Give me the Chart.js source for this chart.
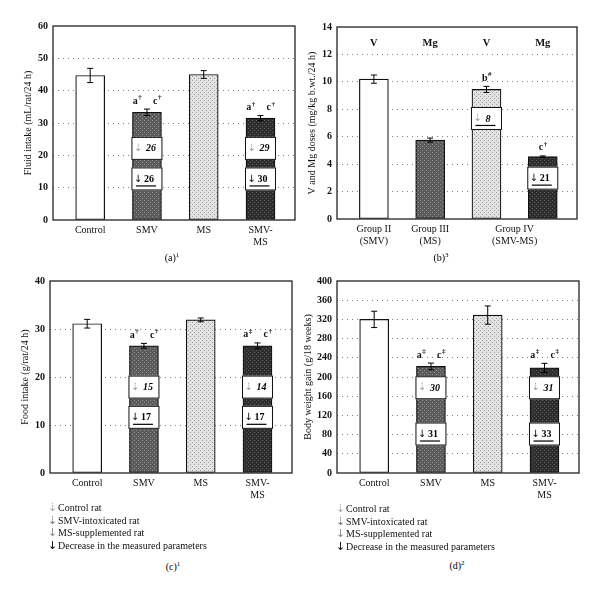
<!DOCTYPE html>
<html>
<head>
<meta charset="utf-8">
<script src="https://cdn.jsdelivr.net/npm/chart.js@4.4.0/dist/chart.umd.min.js"></script>
<style>
  body { margin: 0; background: #fff; font-family: "Liberation Serif", serif; color: #111; }
  #wrap { position: relative; width: 600px; height: 593px; overflow: hidden; }
  canvas { position: absolute; }
  .cap { position: absolute; font-size: 10px; line-height: 12px; color: #000; transform: translateX(-50%); white-space: nowrap; }
  .cap sup { font-size: 7px; vertical-align: 4px; line-height: 0; }
  .legend { position: absolute; font-size: 10px; line-height: 12.7px; color: #111; white-space: nowrap; }
  .legend span { display: inline-block; width: 10px; font-family: "DejaVu Sans"; font-size: 11px; }
</style>
</head>
<body>
<div id="wrap">
  <canvas id="chartA" width="300" height="270" style="left:0;top:0"></canvas>
  <canvas id="chartB" width="300" height="270" style="left:300px;top:0"></canvas>
  <canvas id="chartC" width="300" height="250" style="left:0;top:270px"></canvas>
  <canvas id="chartD" width="300" height="250" style="left:300px;top:270px"></canvas>

  <div class="cap" style="left:172px;top:252px">(a)<sup>1</sup></div>
  <div class="cap" style="left:441px;top:252px">(b)<sup>3</sup></div>
  <div class="cap" style="left:173px;top:561px">(c)<sup>1</sup></div>
  <div class="cap" style="left:457px;top:560px">(d)<sup>2</sup></div>

  <div class="legend" style="left:48px;top:502px">
    <div><span style="color:#aaa">⇣</span>Control rat</div>
    <div><span style="color:#777">⇣</span>SMV-intoxicated rat</div>
    <div><span style="color:#888">↓</span>MS-supplemented rat</div>
    <div><span style="color:#000">↓</span>Decrease in the measured parameters</div>
  </div>
  <div class="legend" style="left:336px;top:503px">
    <div><span style="color:#aaa">⇣</span>Control rat</div>
    <div><span style="color:#777">⇣</span>SMV-intoxicated rat</div>
    <div><span style="color:#888">↓</span>MS-supplemented rat</div>
    <div><span style="color:#000">↓</span>Decrease in the measured parameters</div>
  </div>
</div>

<script>
// groups
const groups = ['Control', 'SMV', 'MS', ['SMV-', 'MS']];

// (a) fluid intake
const fluidMean = [44.7, 33.3, 45.0, 31.5];
const fluidErr = [2.2, 1.0, 1.2, 0.8];
const fluidDropCtrl = [null, 26, null, 29];
const fluidDrop = [null, 26, null, 30];
const fluidSig = [null, ['a†', 'c†'], null, ['a†', 'c†']];

// (b) V and Mg doses
const doseGroups = [['Group II', '(SMV)'], ['Group III', '(MS)'], ['Group IV', '(SMV-MS)']];
const doseBars = ['V', 'Mg', 'V', 'Mg'];
const doseMean = [10.2, 5.75, 9.45, 4.55];
const doseErr = [0.3, 0.15, 0.22, 0.05];
const doseDropV = [null, null, 8, null];
const doseDropMg = [null, null, null, 21];
const doseSig = [null, null, ['b#'], ['c†']];

// (c) food intake
const foodMean = [31.1, 26.5, 31.9, 26.5];
const foodErr = [0.9, 0.5, 0.4, 0.6];
const foodDropCtrl = [null, 15, null, 14];
const foodDrop = [null, 17, null, 17];
const foodSig = [null, ['a†', 'c†'], null, ['a‡', 'c†']];

// (d) body weight gain
const gainMean = [320, 222, 329, 219];
const gainErr = [17, 7, 19, 9.5];
const gainDropCtrl = [null, 30, null, 31];
const gainDrop = [null, 31, null, 33];
const gainSig = [null, ['a‡', 'c‡'], null, ['a‡', 'c‡']];

const SERIF = '"Liberation Serif"';

function stipple(ctx, base, dot) {
  const c = document.createElement('canvas');
  c.width = c.height = 4;
  const g = c.getContext('2d');
  g.fillStyle = base;
  g.fillRect(0, 0, 4, 4);
  g.fillStyle = dot;
  g.fillRect(0, 0, 1, 1);
  g.fillRect(2, 2, 1, 1);
  return ctx.createPattern(c, 'repeat');
}

function fills(ctx, kinds) {
  return kinds.map(k => {
    if (k === 'white') return '#ffffff';
    if (k === 'dark') return stipple(ctx, '#5c5c5c', '#8c8c8c');
    if (k === 'light') return stipple(ctx, '#e2e2e2', '#a4a4a4');
    return stipple(ctx, '#2e2e2e', '#5a5a5a');
  });
}

function line(ctx, x1, y1, x2, y2) {
  ctx.beginPath();
  ctx.moveTo(x1, y1);
  ctx.lineTo(x2, y2);
  ctx.stroke();
}

function supText(ctx, s, cx, cy) {
  const base = s[0], sup = s.slice(1);
  ctx.font = 'bold 10px ' + SERIF;
  const bw = ctx.measureText(base).width;
  ctx.font = 'bold 7px ' + SERIF;
  const sw = ctx.measureText(sup).width;
  const x0 = cx - (bw + sw) / 2;
  ctx.fillStyle = '#111';
  ctx.textAlign = 'left';
  ctx.textBaseline = 'alphabetic';
  ctx.font = 'bold 10px ' + SERIF;
  ctx.fillText(base, x0, cy + 3.5);
  ctx.font = 'bold 7px ' + SERIF;
  ctx.fillText(sup, x0 + bw + 0.5, cy - 1);
}

function dropBox(ctx, cx, cy, num, kind) {
  const w = 31, h = 23;
  ctx.fillStyle = '#fff';
  ctx.fillRect(cx - w / 2, cy - h / 2, w, h);
  ctx.strokeStyle = '#111';
  ctx.lineWidth = 1;
  ctx.strokeRect(cx - w / 2 + 0.5, cy - h / 2 + 0.5, w - 1, h - 1);
  const solid = kind === 'main';
  ctx.textBaseline = 'middle';
  ctx.textAlign = 'center';
  ctx.font = '10px "DejaVu Sans"';
  ctx.fillStyle = solid ? '#000' : '#999';
  ctx.fillText(solid ? '↓' : '⇣', cx - 9, cy);
  ctx.textAlign = 'left';
  ctx.fillStyle = '#000';
  ctx.font = (solid ? '' : 'italic ') + 'bold 10px ' + SERIF;
  ctx.fillText(String(num), solid ? cx - 3 : cx - 1, cy + 0.5);
  if (kind !== 'ctrl') {
    ctx.strokeStyle = '#000';
    ctx.lineWidth = 1.2;
    line(ctx, cx - 11, cy + 7, cx + 9, cy + 7);
  }
}

const extras = {
  id: 'extras',
  afterDatasetsDraw(chart, args, o) {
    const { ctx, chartArea: a } = chart;
    const x = chart.scales.x, y = chart.scales.y;
    ctx.save();
    // error bars
    ctx.strokeStyle = '#000';
    ctx.lineWidth = 1;
    o.means.forEach((m, i) => {
      const px = x.getPixelForValue(i);
      const t = y.getPixelForValue(m + o.errs[i]);
      const b = y.getPixelForValue(m - o.errs[i]);
      line(ctx, px, t, px, b);
      line(ctx, px - 3, t, px + 3, t);
      line(ctx, px - 3, b, px + 3, b);
    });
    // decrease boxes
    o.drops.forEach(d => {
      d.values.forEach((v, i) => {
        if (v === null) return;
        dropBox(ctx, x.getPixelForValue(i), y.getPixelForValue(d.at), v, d.kind);
      });
    });
    // significance letters
    o.sig.forEach((marks, i) => {
      if (!marks) return;
      const px = x.getPixelForValue(i);
      const py = y.getPixelForValue(o.means[i] + o.errs[i]) - 9;
      if (marks.length === 1) supText(ctx, marks[0], px, py);
      else { supText(ctx, marks[0], px - 10, py); supText(ctx, marks[1], px + 10, py); }
    });
    // bar labels on top (panel b)
    if (o.topLabels) {
      ctx.fillStyle = '#111';
      ctx.font = 'bold 10.5px ' + SERIF;
      ctx.textAlign = 'center';
      ctx.textBaseline = 'middle';
      o.topLabels.forEach((t, i) => ctx.fillText(t, x.getPixelForValue(i), y.getPixelForValue(o.topAt)));
    }
    // frame
    ctx.strokeStyle = '#222';
    ctx.lineWidth = 1.3;
    ctx.strokeRect(a.left, a.top, a.right - a.left, a.bottom - a.top);
    ctx.restore();
  }
};

function makeChart(id, box, area, cfg) {
  const canvas = document.getElementById(id);
  const ctx = canvas.getContext('2d');
  return new Chart(ctx, {
    type: 'bar',
    data: {
      datasets: [{
        data: cfg.means.map((v, i) => ({ x: i, y: v })),
        backgroundColor: fills(ctx, cfg.fills),
        borderColor: '#111',
        borderWidth: 1.2,
        borderSkipped: false,
        barThickness: 29
      }]
    },
    options: {
      responsive: false,
      animation: false,
      layout: { padding: { left: 0, top: area.t - box.top, right: box.left + box.w - area.r, bottom: 0 } },
      plugins: {
        legend: { display: false },
        tooltip: { enabled: false },
        extras: cfg.extras
      },
      scales: {
        x: {
          type: 'linear',
          offset: false,
          min: -0.655,
          max: 3.608,
          afterBuildTicks: s => { s.ticks = cfg.tickPos.map(v => ({ value: v })); },
          afterFit: s => { s.height = box.top + box.h - area.b; },
          grid: { display: false, drawTicks: false, offset: false },
          border: { display: false },
          ticks: {
            padding: 4,
            color: '#111',
            autoSkip: false,
            maxRotation: 0,
            font: { family: 'Liberation Serif', size: 10, lineHeight: 1.25 },
            callback: v => cfg.tickText[cfg.tickPos.indexOf(v)]
          }
        },
        y: {
          min: 0,
          max: cfg.yMax,
          afterFit: s => { s.width = area.l - box.left; },
          grid: {
            drawTicks: false,
            lineWidth: 1,
            color: c => (c.tick && (c.tick.value === 0 || c.tick.value === cfg.yMax)) ? 'rgba(0,0,0,0)' : '#808080'
          },
          border: { display: false, dash: [1, 4] },
          ticks: {
            stepSize: cfg.step,
            padding: 5,
            color: '#111',
            font: { family: 'Liberation Serif', size: 10, weight: 'bold' }
          },
          title: {
            display: true,
            text: cfg.title,
            color: '#111',
            padding: { top: cfg.titlePad, bottom: 0 },
            font: { family: 'Liberation Serif', size: 10 }
          }
        }
      }
    },
    plugins: [extras]
  });
}

const kinds = ['white', 'dark', 'light', 'darkest'];

makeChart('chartA', { left: 0, top: 0, w: 300, h: 270 }, { l: 53, t: 26, r: 295, b: 220 }, {
  means: fluidMean, fills: kinds, yMax: 60, step: 10,
  title: 'Fluid intake (mL/rat/24 h)', titlePad: 22,
  tickPos: [0, 1, 2, 3], tickText: groups,
  extras: {
    means: fluidMean, errs: fluidErr, sig: fluidSig,
    drops: [{ values: fluidDropCtrl, at: 22.15, kind: 'ctrl' }, { values: fluidDrop, at: 12.7, kind: 'main' }]
  }
});

makeChart('chartB', { left: 300, top: 0, w: 300, h: 270 }, { l: 337, t: 27, r: 577, b: 219 }, {
  means: doseMean, fills: kinds, yMax: 14, step: 2,
  title: 'V and Mg doses (mg/kg b.wt./24 h)', titlePad: 6,
  tickPos: [0, 1, 2.5], tickText: doseGroups,
  extras: {
    means: doseMean, errs: doseErr, sig: doseSig, topLabels: doseBars, topAt: 12.8,
    drops: [{ values: doseDropV, at: 7.33, kind: 'ctrlU' }, { values: doseDropMg, at: 2.98, kind: 'main' }]
  }
});

makeChart('chartC', { left: 0, top: 270, w: 300, h: 250 }, { l: 50, t: 279, r: 292, b: 473 }, {
  means: foodMean, fills: kinds, yMax: 40, step: 10,
  title: 'Food intake (g/rat/24 h)', titlePad: 19,
  tickPos: [0, 1, 2, 3], tickText: groups,
  extras: {
    means: foodMean, errs: foodErr, sig: foodSig,
    drops: [{ values: foodDropCtrl, at: 17.9, kind: 'ctrl' }, { values: foodDrop, at: 11.6, kind: 'main' }]
  }
});

makeChart('chartD', { left: 300, top: 270, w: 300, h: 250 }, { l: 337, t: 279, r: 579, b: 473 }, {
  means: gainMean, fills: kinds, yMax: 400, step: 40,
  title: 'Body weight gain (g/18 weeks)', titlePad: 2,
  tickPos: [0, 1, 2, 3], tickText: groups,
  extras: {
    means: gainMean, errs: gainErr, sig: gainSig,
    drops: [{ values: gainDropCtrl, at: 177.6, kind: 'ctrl' }, { values: gainDrop, at: 81.2, kind: 'main' }]
  }
});
</script>
</body>
</html>
